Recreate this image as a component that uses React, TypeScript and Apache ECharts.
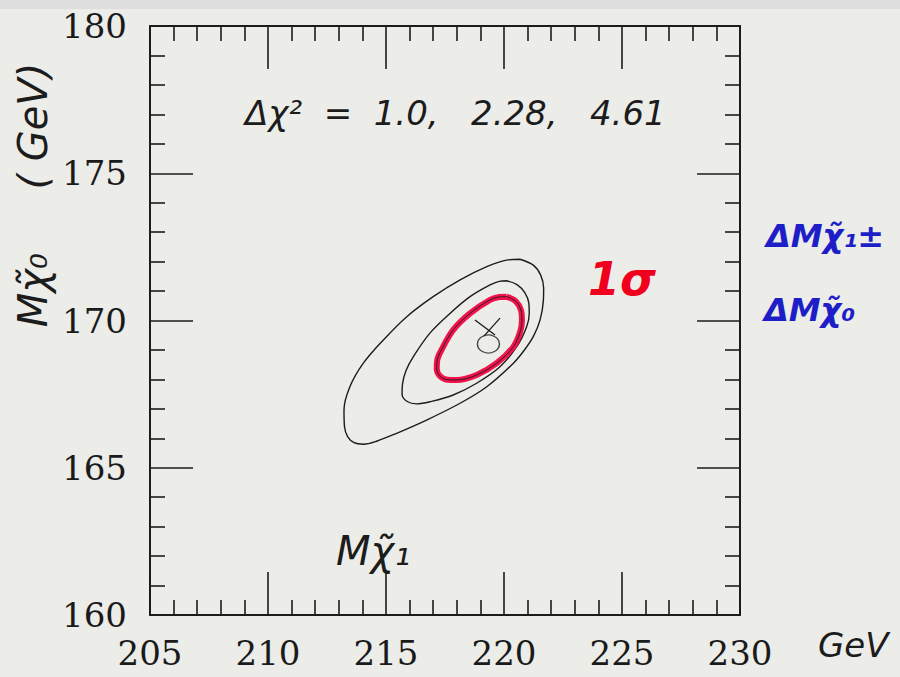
import React, { useEffect, useRef } from "react";
import * as echarts from "echarts";

// Axis ranges (GeV)
const xRange = [205, 230];
const yRange = [160, 180];
const majorStep = 5;

// Δχ² contours in the (Mχ̃₁, Mχ̃₀) plane, traced clockwise from the top
const contour461: [number, number][] = [
  [220.68, 172.08], [221.24, 171.88], [221.55, 171.55], [221.68, 171.1],
  [221.67, 170.7], [221.53, 170.02], [221.24, 169.45], [220.85, 168.98],
  [220.4, 168.55], [219.27, 167.75], [218.14, 167.19], [216.72, 166.62],
  [215.45, 166.17], [214.6, 165.9], [214.05, 165.8], [213.65, 165.85],
  [213.38, 166.05], [213.24, 166.4], [213.22, 166.96], [213.47, 167.75],
  [214.04, 168.55], [214.89, 169.34], [215.88, 170.13], [217.0, 170.81],
  [218.14, 171.38], [219.27, 171.83], [220.11, 172.05],
];
const contour228: [number, number][] = [
  [220.11, 171.35], [220.55, 171.22], [220.88, 170.95], [221.05, 170.6],
  [221.07, 170.25], [220.96, 169.79], [220.54, 169.11], [219.83, 168.43],
  [218.84, 167.87], [217.85, 167.47], [216.86, 167.24], [216.3, 167.17],
  [215.9, 167.25], [215.68, 167.5], [215.7, 167.85], [215.85, 168.3],
  [216.16, 168.77], [216.86, 169.57], [217.71, 170.24], [218.56, 170.81],
  [219.41, 171.21], [219.8, 171.33],
];
const contour100: [number, number][] = [
  [220.11, 170.81], [220.5, 170.65], [220.72, 170.35], [220.76, 170.0],
  [220.68, 169.6], [220.4, 169.11], [219.69, 168.55], [218.84, 168.15],
  [217.99, 167.98], [217.6, 167.99], [217.3, 168.1], [217.15, 168.35],
  [217.17, 168.65], [217.35, 169.0], [217.85, 169.68], [218.56, 170.24],
  [219.41, 170.7], [219.8, 170.8],
];

// Best-fit point and the hand-drawn cross above it
const bestFit: [number, number] = [219.34, 169.2];
const crossStrokeA: [number, number][] = [[218.77, 170.02], [219.62, 169.51]];
const crossStrokeB: [number, number][] = [[219.83, 170.08], [219.15, 169.47]];

const chiLevels = ["1.0", "2.28", "4.61"];

const closeLoop = (pts: [number, number][]) => [...pts, pts[0]];

const INK = "#1c1c1c";
const RED = "#f0124c";
const BLUE = "#1e1ec8";
const HAND = "'DejaVu Sans', sans-serif";
const PRINT = "'DejaVu Serif', serif";

export default function App() {
  const ref = useRef<HTMLDivElement>(null);

  useEffect(() => {
    document.body.style.margin = "0";
    if (!ref.current) return;
    const chart = echarts.init(ref.current, undefined, { renderer: "svg" });

    const axisCommon = {
      type: "value" as const,
      interval: majorStep,
      axisLine: { show: true, lineStyle: { color: INK, width: 2 } },
      axisTick: { show: true, inside: true, length: 43, lineStyle: { color: INK, width: 1.6 } },
      minorTick: { show: true, splitNumber: 5, length: 15, lineStyle: { color: INK, width: 1.6 } },
      splitLine: { show: false },
    };

    const contourLine = (name: string, pts: [number, number][], color: string, width: number) => ({
      name,
      type: "line" as const,
      data: closeLoop(pts),
      smooth: 0.35,
      showSymbol: false,
      symbol: "none",
      lineStyle: { color, width },
      xAxisIndex: 0,
      yAxisIndex: 0,
      z: 3,
    });

    chart.setOption({
      animation: false,
      backgroundColor: "#ecece8",
      grid: { left: 150, top: 26, width: 590, height: 589 },
      xAxis: [
        {
          ...axisCommon,
          min: xRange[0],
          max: xRange[1],
          position: "bottom",
          axisLabel: { show: true, margin: 21, color: "#1a1a1a", fontSize: 34, fontFamily: PRINT },
        },
        {
          ...axisCommon,
          min: xRange[0],
          max: xRange[1],
          position: "top",
          axisLabel: { show: false },
        },
      ],
      yAxis: [
        {
          ...axisCommon,
          min: yRange[0],
          max: yRange[1],
          position: "left",
          axisLabel: { show: true, margin: 23, color: "#1a1a1a", fontSize: 34, fontFamily: PRINT },
        },
        {
          ...axisCommon,
          min: yRange[0],
          max: yRange[1],
          position: "right",
          axisLabel: { show: false },
        },
      ],
      series: [
        contourLine("Δχ² = 4.61", contour461, INK, 1.4),
        contourLine("Δχ² = 2.28", contour228, INK, 1.4),
        contourLine("1σ", contour100, RED, 6),
        contourLine("Δχ² = 1.0", contour100, INK, 0.9),
        {
          type: "scatter",
          data: [bestFit],
          symbol: "circle",
          symbolSize: [22, 18],
          itemStyle: { color: "rgba(0,0,0,0)", borderColor: INK, borderWidth: 1.3 },
          z: 4,
        },
        {
          type: "line",
          data: crossStrokeA,
          showSymbol: false,
          symbol: "none",
          lineStyle: { color: INK, width: 1.3 },
          z: 4,
        },
        {
          type: "line",
          data: crossStrokeB,
          showSymbol: false,
          symbol: "none",
          lineStyle: { color: INK, width: 1.3 },
          z: 4,
        },
      ],
      graphic: [
        {
          type: "rect",
          left: 0,
          top: 0,
          shape: { width: 900, height: 9 },
          style: { fill: "#dedede" },
          z: -1,
        },
        {
          type: "text",
          x: 245,
          y: 113,
          style: {
            text: "Δχ²  =  " + chiLevels.join(",   "),
            font: `italic 34px ${HAND}`,
            fill: INK,
            verticalAlign: "middle",
            align: "left",
          },
        },
        {
          type: "text",
          x: 588,
          y: 279,
          style: {
            text: "1σ",
            font: `italic bold 46px ${HAND}`,
            fill: "#f0001c",
            verticalAlign: "middle",
            align: "left",
          },
        },
        {
          type: "text",
          x: 766,
          y: 236,
          style: {
            text: "ΔMχ̃₁±",
            font: `italic bold 32px ${HAND}`,
            fill: BLUE,
            verticalAlign: "middle",
            align: "left",
          },
        },
        {
          type: "text",
          x: 764,
          y: 310,
          style: {
            text: "ΔMχ̃₀",
            font: `italic bold 32px ${HAND}`,
            fill: BLUE,
            verticalAlign: "middle",
            align: "left",
          },
        },
        {
          type: "text",
          x: 336,
          y: 551,
          style: {
            text: "Mχ̃₁",
            font: `italic 40px ${HAND}`,
            fill: INK,
            verticalAlign: "middle",
            align: "left",
          },
        },
        {
          type: "text",
          x: 818,
          y: 645,
          style: {
            text: "GeV",
            font: `italic 34px ${HAND}`,
            fill: INK,
            verticalAlign: "middle",
            align: "left",
          },
        },
        {
          type: "text",
          x: 33,
          y: 195,
          rotation: Math.PI / 2,
          style: {
            text: "Mχ̃₀     ( GeV)",
            font: `italic 40px ${HAND}`,
            fill: INK,
            verticalAlign: "middle",
            align: "center",
          },
        },
      ],
    });

    return () => chart.dispose();
  }, []);

  return (
    <div
      ref={ref}
      style={{ position: "fixed", left: 0, top: 0, width: 900, height: 677 }}
    />
  );
}
